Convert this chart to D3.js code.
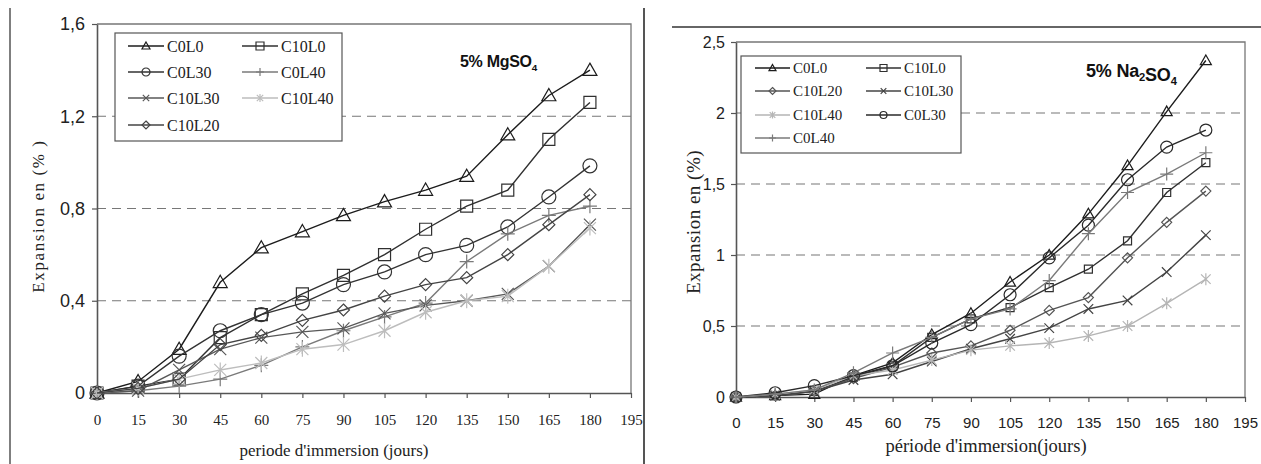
<!DOCTYPE html>
<html>
<head>
<meta charset="utf-8">
<script src="https://d3js.org/d3.v7.min.js"></script>
<style>
body { margin:0; background:#fff; }
svg { display:block; }
</style>
</head>
<body>
<svg id="svgMain" width="1261" height="464"></svg>
<script>
// immersion period (days)
var days = [0,15,30,45,60,75,90,105,120,135,150,165,180];
var xTicks = [0,15,30,45,60,75,90,105,120,135,150,165,180,195];

// 5% MgSO4 expansion (%)
var mgC0L0   = [0,0.05,0.19,0.48,0.63,0.70,0.77,0.83,0.88,0.94,1.12,1.29,1.40];
var mgC10L0  = [0,0.03,0.06,0.24,0.34,0.43,0.51,0.60,0.71,0.81,0.88,1.10,1.26];
var mgC0L30  = [0,0.03,0.16,0.27,0.34,0.39,0.47,0.525,0.60,0.64,0.72,0.85,0.985];
var mgC0L40  = [0,0.01,0.03,0.06,0.12,0.20,0.27,0.33,0.39,0.57,0.69,0.77,0.81];
var mgC10L30 = [0,0.01,0.10,0.19,0.24,0.265,0.28,0.345,0.38,0.40,0.43,0.55,0.73];
var mgC10L40 = [0,0.02,0.06,0.10,0.13,0.19,0.21,0.27,0.35,0.40,0.42,0.55,0.715];
var mgC10L20 = [0,0.02,0.06,0.21,0.25,0.315,0.36,0.42,0.47,0.50,0.60,0.73,0.86];
var mgYTicks = [0,0.4,0.8,1.2,1.6];
var mgYLabels = ['0','0,4','0,8','1,2','1,6'];

// 5% Na2SO4 expansion (%)
var naC0L0   = [0,0.01,0.02,0.15,0.24,0.44,0.59,0.81,1.00,1.29,1.63,2.01,2.37];
var naC10L0  = [0,0.01,0.04,0.14,0.22,0.42,0.55,0.63,0.77,0.90,1.10,1.44,1.65];
var naC10L20 = [0,0.01,0.04,0.13,0.21,0.31,0.36,0.47,0.61,0.70,0.98,1.23,1.45];
var naC10L30 = [0,0.01,0.04,0.12,0.16,0.25,0.34,0.41,0.485,0.62,0.68,0.88,1.14];
var naC10L40 = [0,0.02,0.05,0.15,0.19,0.26,0.33,0.36,0.38,0.43,0.50,0.66,0.83];
var naC0L30  = [0,0.03,0.08,0.15,0.22,0.38,0.51,0.72,0.98,1.21,1.53,1.76,1.88];
var naC0L40  = [0,0.02,0.05,0.17,0.31,0.42,0.55,0.62,0.82,1.15,1.44,1.57,1.72];
var naYTicks = [0,0.5,1,1.5,2,2.5];
var naYLabels = ['0','0,5','1','1,5','2','2,5'];

var serif = "'Liberation Serif','Times New Roman',serif";
var sans = "'Liberation Sans',Arial,sans-serif";

var svg = d3.select('#svgMain');

// marker shapes, centred on 0,0
function markerPath(type, s) {
  var h = s/2, c = h*0.8;
  switch (type) {
    case 'triangle': return 'M0,'+(-h)+'L'+h+','+(h*0.75)+'L'+(-h)+','+(h*0.75)+'Z';
    case 'square': return 'M'+(-h)+','+(-h)+'H'+h+'V'+h+'H'+(-h)+'Z';
    case 'circle': return 'M'+h+',0A'+h+','+h+' 0 1,1 '+(-h)+',0A'+h+','+h+' 0 1,1 '+h+',0Z';
    case 'diamond': return 'M0,'+(-h)+'L'+h+',0L0,'+h+'L'+(-h)+',0Z';
    case 'plus': return 'M'+(-h)+',0H'+h+'M0,'+(-h)+'V'+h;
    case 'cross': return 'M'+(-c)+','+(-c)+'L'+c+','+c+'M'+(-c)+','+c+'L'+c+','+(-c);
    case 'star': return 'M'+(-c)+','+(-c)+'L'+c+','+c+'M'+(-c)+','+c+'L'+c+','+(-c)+'M0,'+(-h)+'V'+h;
  }
}

function drawPanel(p) {
  var xs = d3.scaleLinear().domain([0,195]).range([p.left,p.right]);
  var ys = d3.scaleLinear().domain([0,p.yMax]).range([p.bottom,p.top]);
  var g = svg.append('g');

  // frame (top + right)
  g.append('path')
    .attr('d','M'+p.left+','+p.top+'H'+p.right+'V'+p.bottom)
    .attr('fill','none').attr('stroke','#777').attr('stroke-width',1.3);

  // dashed grid
  g.selectAll('line.grid')
    .data(p.yTicks.filter(function(d){ return d>0 && d<p.yMax; }))
    .enter().append('line')
      .attr('x1',p.left).attr('x2',p.right)
      .attr('y1',function(d){ return ys(d); }).attr('y2',function(d){ return ys(d); })
      .attr('stroke','#777').attr('stroke-width',1.2).attr('stroke-dasharray','9,6');

  // axes
  var ax = g.append('g').attr('transform','translate(0,'+p.bottom+')')
    .call(d3.axisBottom(xs).tickValues(xTicks).tickSize(5).tickPadding(p.xPad).tickSizeOuter(0));
  ax.selectAll('text').attr('font-family',p.xFont).attr('font-size',p.xFontSize).attr('fill','#222');
  var ay = g.append('g').attr('transform','translate('+p.left+',0)')
    .call(d3.axisLeft(ys).tickValues(p.yTicks).tickFormat(function(d,i){ return p.yLabels[i]; })
      .tickSize(5).tickPadding(p.yPad).tickSizeOuter(0));
  ay.selectAll('text').attr('font-family',sans).attr('font-size',p.yFontSize).attr('fill','#222');
  [ax,ay].forEach(function(a){
    a.select('.domain').attr('stroke','#555').attr('stroke-width',1.6);
    a.selectAll('.tick line').attr('stroke','#555').attr('stroke-width',1.2);
  });

  // series
  var line = d3.line().x(function(d,i){ return xs(days[i]); }).y(function(d){ return ys(d); });
  p.series.forEach(function(s) {
    g.append('path').attr('d',line(s.values))
      .attr('fill','none').attr('stroke',s.color).attr('stroke-width',1.4);
    g.selectAll(null).data(s.values).enter().append('path')
      .attr('transform',function(d,i){ return 'translate('+xs(days[i])+','+ys(d)+')'; })
      .attr('d',markerPath(s.marker,p.mSize[s.marker]))
      .attr('fill','none').attr('stroke',s.color).attr('stroke-width',1.2);
  });

  // legend
  var L = p.legend;
  g.append('rect').attr('x',L.x).attr('y',L.y).attr('width',L.w).attr('height',L.h)
    .attr('fill','#fff').attr('stroke','#555').attr('stroke-width',1.2);
  p.series.forEach(function(s,i) {
    var col = i%2, row = Math.floor(i/2);
    var x1 = L.cols[col], x2 = x1+L.lineLen, y = L.rows[row];
    g.append('line').attr('x1',x1).attr('x2',x2).attr('y1',y).attr('y2',y)
      .attr('stroke',s.color).attr('stroke-width',1.4);
    g.append('path').attr('transform','translate('+((x1+x2)/2)+','+y+')')
      .attr('d',markerPath(s.marker,L.mSize)).attr('fill','none')
      .attr('stroke',s.color).attr('stroke-width',1.2);
    g.append('text').attr('x',x2+3).attr('y',y).attr('dy','0.35em')
      .attr('font-family',serif).attr('font-size',L.fontSize).attr('fill','#222')
      .text(s.name);
  });

  // titles
  var t = g.append('text').attr('x',p.title.x).attr('y',p.title.y)
    .attr('font-family',sans).attr('font-weight','bold').attr('font-size',p.title.size)
    .attr('letter-spacing',p.title.ls).attr('fill','#111');
  p.title.parts.forEach(function(part) {
    if (part.sub) {
      t.append('tspan').attr('dy',4).attr('font-size',p.title.size*0.62).text(part.t);
      t.append('tspan').attr('dy',-4).text('');
    } else t.append('tspan').text(part.t);
  });

  g.append('text')
    .attr('transform','translate('+p.yLabel.x+','+p.yLabel.y+') rotate(-90)')
    .attr('text-anchor','middle').attr('font-family',serif).attr('font-size',p.yLabel.size)
    .attr('letter-spacing',p.yLabel.ls).attr('fill','#222').text(p.yLabel.text);
  g.append('text')
    .attr('x',p.xLabel.x).attr('y',p.xLabel.y).attr('text-anchor','middle')
    .attr('font-family',serif).attr('font-size',p.xLabel.size).attr('fill','#222')
    .text(p.xLabel.text);
}

// page borders
svg.append('line').attr('x1',10).attr('x2',10).attr('y1',8).attr('y2',464).attr('stroke','#555').attr('stroke-width',1.5);
svg.append('line').attr('x1',644).attr('x2',644).attr('y1',8).attr('y2',464).attr('stroke','#555').attr('stroke-width',2);
svg.append('line').attr('x1',672).attr('x2',1261).attr('y1',27).attr('y2',27).attr('stroke','#333').attr('stroke-width',1.5);

drawPanel({
  left:97, right:631, top:24, bottom:393, yMax:1.6,
  yTicks:mgYTicks, yLabels:mgYLabels, yFontSize:18, yPad:7,
  xFont:serif, xFontSize:15, xPad:16,
  mSize:{triangle:14, square:12, circle:14, diamond:12, plus:14, cross:15, star:15},
  series:[
    {name:'C0L0', values:mgC0L0, marker:'triangle', color:'#1c1c1c'},
    {name:'C10L0', values:mgC10L0, marker:'square', color:'#303030'},
    {name:'C0L30', values:mgC0L30, marker:'circle', color:'#333'},
    {name:'C0L40', values:mgC0L40, marker:'plus', color:'#7a7a7a'},
    {name:'C10L30', values:mgC10L30, marker:'cross', color:'#585858'},
    {name:'C10L40', values:mgC10L40, marker:'star', color:'#bdbdbd'},
    {name:'C10L20', values:mgC10L20, marker:'diamond', color:'#444'}
  ],
  legend:{x:115, y:33, w:227, h:108, rows:[46,72,98,125], cols:[128,242], lineLen:36, mSize:8, fontSize:16},
  title:{x:460, y:67, size:16, ls:-0.3, parts:[{t:'5%'},{t:' MgSO'},{t:'4',sub:true}]},
  yLabel:{x:44, y:216, size:17, ls:1.6, text:'Expansion en (% )'},
  xLabel:{x:334, y:456, size:17, text:"periode d'immersion (jours)"}
});

drawPanel({
  left:736, right:1245, top:42, bottom:397, yMax:2.5,
  yTicks:naYTicks, yLabels:naYLabels, yFontSize:16, yPad:6,
  xFont:sans, xFontSize:15, xPad:15,
  mSize:{triangle:11, square:8, circle:12, diamond:10, plus:13, cross:12, star:12},
  series:[
    {name:'C0L0', values:naC0L0, marker:'triangle', color:'#1c1c1c'},
    {name:'C10L0', values:naC10L0, marker:'square', color:'#303030'},
    {name:'C10L20', values:naC10L20, marker:'diamond', color:'#555'},
    {name:'C10L30', values:naC10L30, marker:'cross', color:'#444'},
    {name:'C10L40', values:naC10L40, marker:'star', color:'#b5b5b5'},
    {name:'C0L30', values:naC0L30, marker:'circle', color:'#2a2a2a'},
    {name:'C0L40', values:naC0L40, marker:'plus', color:'#7a7a7a'}
  ],
  legend:{x:741, y:56, w:220, h:97, rows:[68,91,115,138], cols:[755,866], lineLen:35, mSize:7, fontSize:15},
  title:{x:1086, y:77, size:18, ls:-0.2, parts:[{t:'5% Na'},{t:'2',sub:true},{t:'SO'},{t:'4',sub:true}]},
  yLabel:{x:700, y:222, size:19, ls:0.5, text:'Expansion en (%)'},
  xLabel:{x:986, y:452, size:18.5, text:"période d'immersion(jours)"}
});
</script>
</body>
</html>
